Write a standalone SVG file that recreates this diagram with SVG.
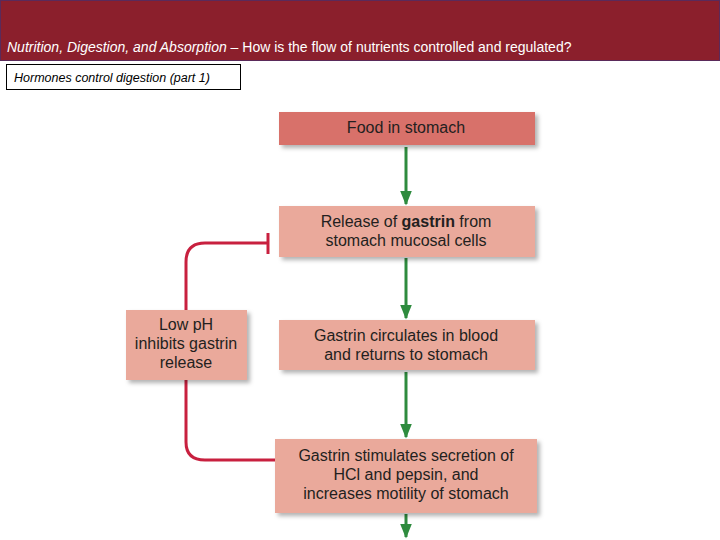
<svg xmlns="http://www.w3.org/2000/svg" width="720" height="540" viewBox="0 0 720 540">
<defs>
<style>
.box{fill:#EAA99B}
.t{font-family:"Liberation Sans",Arial,sans-serif;font-size:16px;fill:#231f20;text-anchor:middle}
.g{stroke:#2E8B3E;stroke-width:3;fill:none}
.r{stroke:#C8203F;stroke-width:3;fill:none}
</style>
<marker id="ah" markerWidth="5" markerHeight="4" refX="4.5" refY="2" orient="auto" markerUnits="strokeWidth"><path d="M0,0L5,2L0,4z" fill="#2E8B3E"/></marker>
<filter id="sh" x="-10%" y="-10%" width="130%" height="140%"><feDropShadow dx="3" dy="3" stdDeviation="2" flood-color="#000" flood-opacity="0.3"/></filter>
</defs>
<rect width="720" height="540" fill="#fff"/>
<rect x="0.5" y="0.5" width="719" height="60" fill="#8B1F2C" stroke="#5A2A5A" stroke-width="1"/>
<text x="7" y="52" font-family="Liberation Sans,Arial,sans-serif" font-size="14" fill="#fff"><tspan font-style="italic">Nutrition, Digestion, and Absorption</tspan> – How is the flow of nutrients controlled and regulated?</text>
<rect x="6.5" y="64.5" width="234" height="25" fill="#fff" stroke="#000"/>
<text x="14" y="82" font-family="Liberation Sans,Arial,sans-serif" font-size="12.5" font-style="italic" fill="#000">Hormones control digestion (part 1)</text>
<g id="connectors">
<line class="g" x1="406" y1="147" x2="406" y2="204" marker-end="url(#ah)"/>
<line class="g" x1="406" y1="258" x2="406" y2="318" marker-end="url(#ah)"/>
<line class="g" x1="406" y1="372" x2="406" y2="437" marker-end="url(#ah)"/>
<line class="g" x1="406" y1="514" x2="406" y2="537" marker-end="url(#ah)"/>
<path class="r" d="M186,310V262Q186,243 205,243H268"/>
<line class="r" x1="268" y1="233" x2="268" y2="254"/>
<path class="r" d="M186,380V442Q186,460 205,460H276"/>
</g>
<g id="food"><rect x="279" y="112" width="256" height="33" fill="#D8716B" filter="url(#sh)"/><text class="t" x="406" y="133">Food in stomach</text></g>
<g id="release"><rect class="box" x="279" y="206" width="256" height="51" filter="url(#sh)"/><text class="t" x="406" y="227">Release of <tspan font-weight="bold">gastrin</tspan> from</text><text class="t" x="406" y="246">stomach mucosal cells</text></g>
<g id="circulates"><rect class="box" x="279" y="320" width="256" height="50" filter="url(#sh)"/><text class="t" x="406" y="341">Gastrin circulates in blood</text><text class="t" x="406" y="360">and returns to stomach</text></g>
<g id="stimulates"><rect class="box" x="275" y="439" width="262" height="74" filter="url(#sh)"/><text class="t" x="406" y="461">Gastrin stimulates secretion of</text><text class="t" x="406" y="480">HCl and pepsin, and</text><text class="t" x="406" y="499">increases motility of stomach</text></g>
<g id="lowph"><rect class="box" x="126" y="310" width="121" height="70" filter="url(#sh)"/><text class="t" x="186" y="330">Low pH</text><text class="t" x="186" y="349">inhibits gastrin</text><text class="t" x="186" y="368">release</text></g>
</svg>
